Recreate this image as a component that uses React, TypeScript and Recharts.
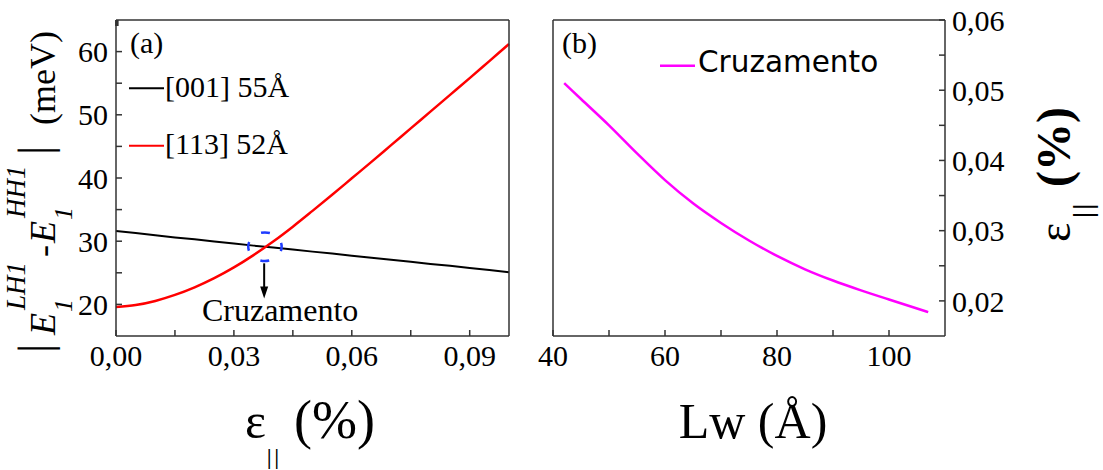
import { Legend, Line, LineChart, ReferenceDot, ReferenceLine, XAxis, YAxis } from 'recharts';

// panel (a): |E1(LH1) - E1(HH1)| vs in-plane strain
const strain = [
  0, 0.005, 0.01, 0.015, 0.02, 0.025, 0.03, 0.035, 0.04, 0.045, 0.05,
  0.055, 0.06, 0.065, 0.07, 0.075, 0.08, 0.085, 0.09, 0.095, 0.1,
];
const gap001 = [
  31.6, 31.3, 30.95, 30.6, 30.3, 29.95, 29.65, 29.3, 29.0, 28.7, 28.35,
  28.05, 27.7, 27.4, 27.05, 26.75, 26.4, 26.1, 25.75, 25.45, 25.1,
];
const gap113 = [
  19.6, 19.9, 20.55, 21.5, 22.7, 24.15, 25.85, 27.8, 29.95, 32.3, 34.8,
  37.35, 39.95, 42.55, 45.2, 47.85, 50.5, 53.15, 55.8, 58.5, 61.2,
];

// panel (b): crossing strain vs well width
const wellWidth = [42, 45, 50, 55, 60, 65, 70, 75, 80, 85, 90, 95, 100, 107];
const crossStrain = [
  0.051, 0.04875, 0.045, 0.041, 0.0372, 0.0339, 0.0311, 0.0286, 0.0264,
  0.0245, 0.0229, 0.0215, 0.0202, 0.0184,
];

const strainTicks = [0, 0.015, 0.03, 0.045, 0.06, 0.075, 0.09];
const gapTicks = [20, 25, 30, 35, 40, 45, 50, 55, 60];
const widthTicks = [40, 50, 60, 70, 80, 90, 100];
const crossTicks = [0.02, 0.025, 0.03, 0.035, 0.04, 0.045, 0.05, 0.055, 0.06];

// crossing marker and arrow (data coords)
const crossPoint = { x: 0.0379, y: 29.13 };
const arrowX = 0.0377;
const arrowFrom = 26.5;
const arrowTo = 22.75;
const arrowTip = 20.93;

const tableA = strain.map((s, i) => ({ strain: s, g001: gap001[i], g113: gap113[i] }));
const tableB = wellWidth.map((w, i) => ({ lw: w, cross: crossStrain[i] }));

const SERIF = "'Liberation Serif', 'Times New Roman', serif";
const SANS = "'DejaVu Sans', Verdana, sans-serif";
const frame = { stroke: '#333', strokeWidth: 1.5 };
const tickText = { fill: '#000', fontSize: 30, fontFamily: SERIF };
const noLabel = () => '';

const isMajor = (v: number, step: number) => Math.abs(v / step - Math.round(v / step)) < 1e-6;
const comma = (v: number, d: number) => v.toFixed(d).replace('.', ',');

const PanelTag = ({ tag, tagX }: { tag: string; tagX: number }) => (
  <text x={tagX} y={53} fontSize={30} fontFamily={SERIF} fill="#000">
    {tag}
  </text>
);

const StrainTitle = () => (
  <text x={245} y={438} fontSize={50} fontFamily={SERIF} fill="#000">
    ε
    <tspan x={267} y={464} fontSize={20} fontWeight="bold" letterSpacing={3}>||</tspan>
    <tspan x={294} y={438} fontSize={54}>(%)</tspan>
  </text>
);

const GapTitle = () => (
  <text transform="translate(55,353) rotate(-90)" fontFamily={SERIF} fill="#000">
    <tspan x={0} y={-5} fontSize={46}>|</tspan>
    <tspan x={18} y={0} fontSize={36} fontStyle="italic">E</tspan>
    <tspan x={43} y={-30} fontSize={27} fontStyle="italic">LH1</tspan>
    <tspan x={41} y={17} fontSize={26} fontStyle="italic">1</tspan>
    <tspan x={96} y={0} fontSize={36}>-</tspan>
    <tspan x={110} y={0} fontSize={36} fontStyle="italic">E</tspan>
    <tspan x={135} y={-30} fontSize={27} fontStyle="italic">HH1</tspan>
    <tspan x={133} y={17} fontSize={26} fontStyle="italic">1</tspan>
    <tspan x={198} y={-5} fontSize={46}>|</tspan>
    <tspan x={228} y={0} fontSize={36}>(meV)</tspan>
  </text>
);

const WidthTitle = () => (
  <text x={233} y={438} fontSize={50} fontFamily={SERIF} fill="#000" textAnchor="middle">
    Lw (Å)
  </text>
);

const CrossTitle = () => (
  <text transform="translate(550,242) rotate(-90)" fontFamily={SERIF} fill="#000">
    <tspan x={0} y={0} fontSize={46}>ε</tspan>
    <tspan x={24} y={22} fontSize={28} fontWeight="bold" letterSpacing={2}>||</tspan>
    <tspan x={55} y={0} fontSize={48} fontWeight="bold">(%)</tspan>
  </text>
);

const LegendA = (props: any) => {
  const items = props.payload || [];
  return (
    <svg width={200} height={110}>
      {items.map((it: any, i: number) => (
        <g key={it.value}>
          <line x1={4} x2={39} y1={28.3 + i * 57.4} y2={28.3 + i * 57.4} stroke={it.color} strokeWidth={2} />
          <text x={40} y={36.7 + i * 57.4} fontSize={30} fontFamily={SERIF} fill="#000">
            {it.value}
          </text>
        </g>
      ))}
    </svg>
  );
};

const LegendB = (props: any) => {
  const items = props.payload || [];
  return (
    <svg width={260} height={50}>
      {items.map((it: any) => (
        <g key={it.value}>
          <line x1={5} x2={40} y1={25.7} y2={25.7} stroke={it.color} strokeWidth={2.5} />
          <text x={43} y={31.7} fontSize={29.5} fontFamily={SANS} fill="#000">
            {it.value}
          </text>
        </g>
      ))}
    </svg>
  );
};

const CrossRing = (p: any) => (
  <ellipse
    cx={p.cx}
    cy={p.cy}
    rx={16.7}
    ry={14.3}
    fill="none"
    stroke="#1f3cff"
    strokeWidth={2.5}
    strokeDasharray="9 15.4"
    strokeDashoffset={4.5}
  />
);

const ArrowHead = (p: any) => (
  <g>
    <path d={`M${p.cx - 4},${p.cy - 12} L${p.cx + 4},${p.cy - 12} L${p.cx},${p.cy} Z`} fill="#000" />
    <text x={p.cx + 16} y={p.cy + 22} textAnchor="middle" fontSize={32} fontFamily={SERIF} fill="#000">
      Cruzamento
    </text>
  </g>
);

export default function App() {
  return (
    <div style={{ position: 'absolute', left: 0, top: 0, width: 1103, height: 470, background: '#fff' }}>
      <div style={{ position: 'absolute', left: 0, top: 0 }}>
        <LineChart width={520} height={470} data={tableA} margin={{ top: 18, right: 9, bottom: 84, left: 46 }}>
          <XAxis
            dataKey="strain"
            type="number"
            domain={[0, 0.1]}
            ticks={strainTicks}
            interval={0}
            tickFormatter={(v: number) => (isMajor(v, 0.03) ? comma(v, 2) : '')}
            tickSize={-6}
            tickMargin={15}
            height={50}
            axisLine={frame}
            tickLine={frame}
            tick={tickText}
            label={<StrainTitle />}
          />
          <XAxis
            xAxisId="top"
            orientation="top"
            type="number"
            domain={[0, 0.1]}
            ticks={strainTicks}
            interval={0}
            tickFormatter={noLabel}
            tickSize={-6}
            height={2}
            axisLine={frame}
            tickLine={frame}
            label={<PanelTag tag="(a)" tagX={130} />}
          />
          <YAxis
            type="number"
            domain={[15, 65]}
            ticks={gapTicks}
            interval={0}
            tickFormatter={(v: number) => (v % 10 === 0 ? String(v) : '')}
            tickSize={-6}
            tickMargin={14}
            width={70}
            axisLine={frame}
            tickLine={frame}
            tick={tickText}
            label={<GapTitle />}
          />
          <YAxis
            yAxisId="right"
            orientation="right"
            type="number"
            domain={[15, 65]}
            ticks={gapTicks}
            interval={0}
            tickFormatter={noLabel}
            tickSize={-6}
            width={2}
            axisLine={frame}
            tickLine={frame}
          />
          <Legend
            content={<LegendA />}
            layout="horizontal"
            verticalAlign="middle"
            align="center"
            wrapperStyle={{ left: 125, top: 60, width: 200, height: 110 }}
          />
          <Line dataKey="g001" name="[001] 55Å" type="linear" stroke="#000" strokeWidth={2} dot={false} isAnimationActive={false} />
          <Line dataKey="g113" name="[113] 52Å" type="monotone" stroke="#ff0000" strokeWidth={2.5} dot={false} isAnimationActive={false} />
          <ReferenceDot x={crossPoint.x} y={crossPoint.y} r={15} shape={CrossRing} />
          <ReferenceLine
            segment={[
              { x: arrowX, y: arrowFrom },
              { x: arrowX, y: arrowTo },
            ]}
            stroke="#000"
            strokeWidth={2}
          />
          <ReferenceDot x={arrowX} y={arrowTip} r={4} shape={ArrowHead} />
        </LineChart>
      </div>
      <div style={{ position: 'absolute', left: 520, top: 0 }}>
        <LineChart width={583} height={470} data={tableB} margin={{ top: 18, right: 78, bottom: 84, left: 31 }}>
          <XAxis
            dataKey="lw"
            type="number"
            domain={[40, 110]}
            ticks={widthTicks}
            interval={0}
            tickFormatter={(v: number) => (v % 20 === 0 ? String(v) : '')}
            tickSize={-6}
            tickMargin={15}
            height={50}
            axisLine={frame}
            tickLine={frame}
            tick={tickText}
            label={<WidthTitle />}
          />
          <XAxis
            xAxisId="top"
            orientation="top"
            type="number"
            domain={[40, 110]}
            ticks={widthTicks}
            interval={0}
            tickFormatter={noLabel}
            tickSize={-6}
            height={2}
            axisLine={frame}
            tickLine={frame}
            label={<PanelTag tag="(b)" tagX={42} />}
          />
          <YAxis
            yAxisId="left"
            type="number"
            domain={[0.015, 0.06]}
            ticks={crossTicks}
            interval={0}
            tickFormatter={noLabel}
            tickSize={-6}
            width={2}
            axisLine={frame}
            tickLine={frame}
          />
          <YAxis
            yAxisId="right"
            orientation="right"
            type="number"
            domain={[0.015, 0.06]}
            ticks={crossTicks}
            interval={0}
            tickFormatter={(v: number) => (isMajor(v, 0.01) ? comma(v, 2) : '')}
            tickSize={-6}
            tickMargin={13}
            width={80}
            axisLine={frame}
            tickLine={frame}
            tick={tickText}
            label={<CrossTitle />}
          />
          <Legend
            content={<LegendB />}
            layout="horizontal"
            verticalAlign="middle"
            align="center"
            wrapperStyle={{ left: 135, top: 40, width: 260, height: 50 }}
          />
          <Line
            yAxisId="right"
            dataKey="cross"
            name="Cruzamento"
            type="monotone"
            stroke="#ff00ff"
            strokeWidth={2.5}
            dot={false}
            isAnimationActive={false}
          />
        </LineChart>
      </div>
    </div>
  );
}
